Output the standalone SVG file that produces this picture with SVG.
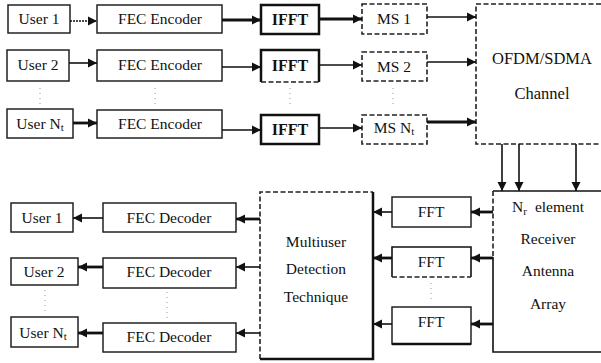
<svg xmlns="http://www.w3.org/2000/svg" width="601" height="363" viewBox="0 0 601 363">
<style>
text{font-family:'Liberation Serif','Times New Roman',serif;font-size:15.5px;fill:#111;text-anchor:middle}
.b{fill:#fff;stroke:#222;stroke-width:1.5}
.tk{fill:#fff;stroke:#111;stroke-width:2.5}
.d{fill:#fff;stroke:#222;stroke-width:1.6;stroke-dasharray:5 2.5}
.nf{fill:#fff;stroke:none}
.sd{fill:none;stroke:#222;stroke-width:1.6;stroke-dasharray:5 2.5}
.ss{fill:none;stroke:#111;stroke-width:1.6}
.st{fill:none;stroke:#111;stroke-width:2.5}
.ln{fill:none;stroke:#111;stroke-width:1.6;marker-end:url(#ah)}
.lt{fill:none;stroke:#111;stroke-width:2.8;marker-end:url(#ah)}
.dot{fill:none;stroke:#999;stroke-width:1;stroke-dasharray:1 4}
.bold{font-weight:bold;font-size:16px}
.big{font-size:16.5px}
</style>
<defs>
<marker id="ah" markerUnits="userSpaceOnUse" markerWidth="10" markerHeight="10" refX="9" refY="5" orient="auto">
<path d="M0,0.5 L9,5 L0,9.5 Z" fill="#111"/>
</marker>
</defs>
<rect width="601" height="363" fill="#fff"/>

<g id="user1_tx"><rect class="b" x="8" y="5" width="62" height="28"/><text x="39" y="24">User 1</text></g>
<g id="user2_tx"><rect class="b" x="7" y="50" width="62" height="31"/><text x="38" y="70">User 2</text></g>
<g id="userNt_tx"><rect class="b" x="7" y="109" width="66" height="29"/><text x="40" y="129">User N<tspan font-size="11" dy="2">t</tspan></text></g>

<g id="fecenc1"><rect class="b" x="97" y="5" width="125" height="28"/><text x="160" y="24">FEC Encoder</text></g>
<g id="fecenc2"><rect class="b" x="97" y="50" width="125" height="31"/><text x="160" y="70">FEC Encoder</text></g>
<g id="fecenc3"><rect class="b" x="97" y="110" width="125" height="28"/><text x="160" y="129">FEC Encoder</text></g>

<g id="ifft1"><rect class="tk" x="261" y="5" width="58" height="29"/><text class="bold" x="290" y="25">IFFT</text></g>
<g id="ifft2"><rect class="nf" x="261" y="50" width="58" height="32"/><path class="st" d="M261,82 V50 H319 V82"/><path class="sd" d="M261,82 H319" stroke-width="2"/><text class="bold" x="290" y="71">IFFT</text></g>
<g id="ifft3"><rect class="tk" x="261" y="115" width="58" height="29"/><text class="bold" x="290" y="135">IFFT</text></g>

<g id="ms1"><rect class="d" x="362" y="4" width="65" height="30"/><text x="394" y="24">MS 1</text></g>
<g id="ms2"><rect class="d" x="362" y="52" width="65" height="29"/><text x="394" y="72">MS 2</text></g>
<g id="msNt"><rect class="d" x="362" y="115" width="65" height="29"/><text x="394" y="133">MS N<tspan font-size="11" dy="2">t</tspan></text></g>

<g id="channel"><rect class="nf" x="476" y="4" width="125" height="140"/><path class="sd" d="M601,4 H476 V144 H601"/><text class="big" x="542" y="64">OFDM/SDMA</text><text class="big" x="542" y="99">Channel</text></g>

<g id="receiver"><rect class="nf" x="493" y="191" width="108" height="161"/><path class="ss" d="M601,191 H493"/><path class="sd" d="M493,191 V257"/><path class="ss" d="M493,257 V352 H601"/><text x="548" y="212">N<tspan font-size="11" dy="3">r</tspan><tspan dx="8" dy="-3">element</tspan></text><text x="548" y="244">Receiver</text><text x="548" y="276">Antenna</text><text x="548" y="309">Array</text></g>

<g id="fft1"><rect class="b" x="392" y="197" width="79" height="30"/><text x="431" y="217">FFT</text></g>
<g id="fft2"><rect class="nf" x="392" y="247" width="79" height="30"/><path class="ss" d="M392,277 V247 H471 V277"/><path class="sd" d="M392,277 H471" stroke-width="2"/><text x="431" y="267">FFT</text></g>
<g id="fft3"><rect class="b" x="392" y="307" width="79" height="37"/><path class="st" d="M392,344 H471"/><text x="431" y="327">FFT</text></g>

<g id="mud"><rect class="nf" x="260" y="192" width="113" height="167"/><path class="sd" d="M260,359 V192 H373"/><path class="st" d="M373,192 V359 H260" stroke-width="2"/><text x="316" y="247">Multiuser</text><text x="316" y="274">Detection</text><text x="316" y="302">Technique</text></g>

<g id="fecdec1"><rect class="b" x="103" y="203" width="133" height="29"/><text x="169" y="223">FEC Decoder</text></g>
<g id="fecdec2"><rect class="b" x="103" y="258" width="133" height="30"/><text x="169" y="277">FEC Decoder</text></g>
<g id="fecdec3"><rect class="b" x="103" y="323" width="133" height="29"/><text x="169" y="342">FEC Decoder</text></g>

<g id="user1_rx"><rect class="b" x="11" y="203" width="62" height="29"/><text x="42" y="223">User 1</text></g>
<g id="user2_rx"><rect class="b" x="11" y="258" width="67" height="27"/><text x="44" y="277">User 2</text></g>
<g id="userNt_rx"><rect class="b" x="11" y="317" width="67" height="30"/><text x="43" y="338">User N<tspan font-size="11" dy="2">t</tspan></text></g>

<g id="ellipsis">
<line class="dot" x1="40" y1="88" x2="40" y2="106"/>
<line class="dot" x1="155" y1="88" x2="155" y2="106"/>
<line class="dot" x1="290" y1="88" x2="290" y2="108"/>
<line class="dot" x1="393" y1="88" x2="393" y2="108"/>
<line class="dot" x1="45" y1="290" x2="45" y2="314"/>
<line class="dot" x1="167" y1="292" x2="167" y2="318"/>
<line class="dot" x1="431" y1="283" x2="431" y2="302"/>
</g>

<g id="connectors">
<line class="ln" x1="70" y1="21" x2="97" y2="21" stroke-dasharray="2 1"/>
<line class="ln" x1="69" y1="63" x2="97" y2="63"/>
<line class="lt" x1="73" y1="123" x2="97" y2="123"/>
<line class="lt" x1="222" y1="20" x2="261" y2="20"/>
<line class="ln" x1="222" y1="67" x2="261" y2="67"/>
<line class="ln" x1="222" y1="130" x2="261" y2="130"/>
<line class="lt" x1="319" y1="19" x2="362" y2="19"/>
<line class="ln" x1="319" y1="65" x2="362" y2="65"/>
<line class="ln" x1="319" y1="128" x2="362" y2="128"/>
<line class="ln" x1="427" y1="17" x2="476" y2="17"/>
<line class="ln" x1="427" y1="62" x2="476" y2="62"/>
<line class="lt" x1="427" y1="122" x2="476" y2="122"/>
<line class="ln" x1="502" y1="144" x2="502" y2="191"/>
<line class="ln" x1="519" y1="144" x2="519" y2="191"/>
<line class="ln" x1="576" y1="144" x2="576" y2="191"/>
<line class="lt" x1="493" y1="212" x2="471" y2="212"/>
<line class="lt" x1="493" y1="258" x2="471" y2="258"/>
<line class="lt" x1="493" y1="324" x2="471" y2="324"/>
<line class="ln" x1="392" y1="212" x2="373" y2="212"/>
<line class="lt" x1="392" y1="258" x2="373" y2="258"/>
<line class="ln" x1="392" y1="324" x2="373" y2="324"/>
<line class="lt" x1="260" y1="219" x2="236" y2="219"/>
<line class="ln" x1="260" y1="267" x2="236" y2="267"/>
<line class="ln" x1="260" y1="333" x2="236" y2="333"/>
<line class="ln" x1="103" y1="218" x2="73" y2="218"/>
<line class="lt" x1="103" y1="267" x2="78" y2="267"/>
<line class="lt" x1="103" y1="333" x2="78" y2="333"/>
</g>
</svg>
